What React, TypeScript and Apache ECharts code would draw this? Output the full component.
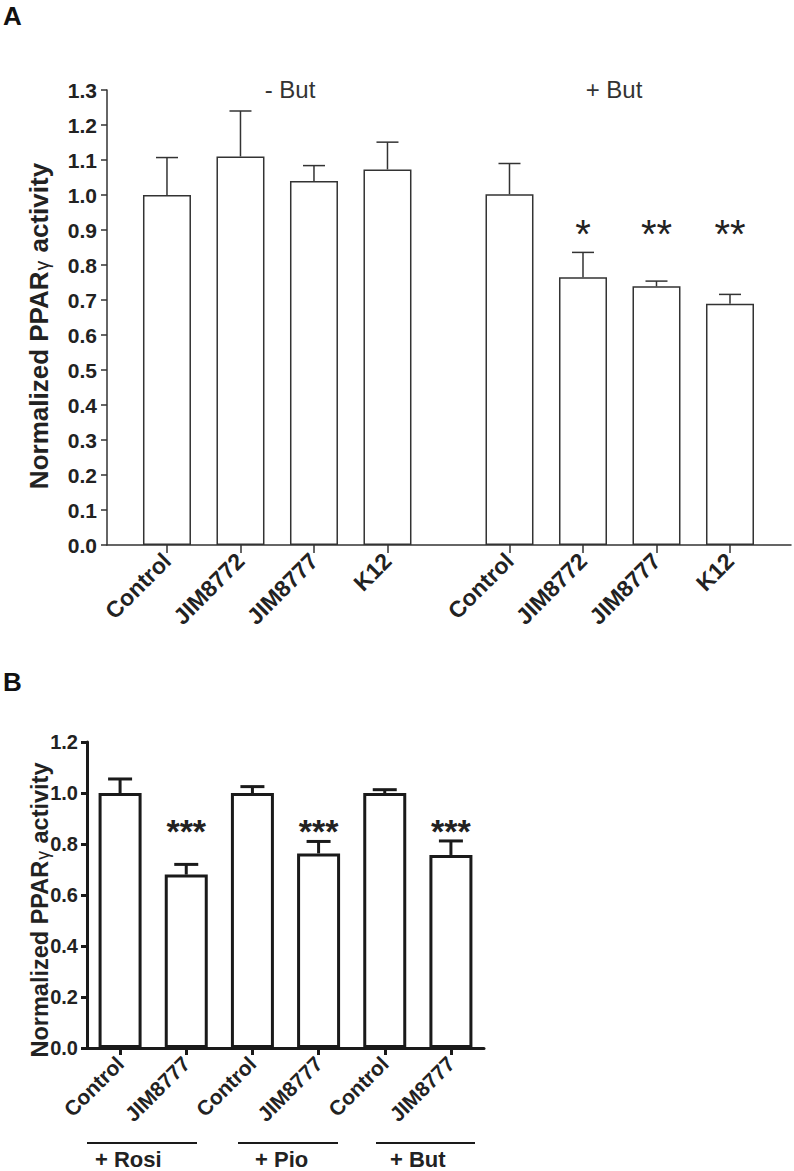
import React, { useEffect, useRef } from "react";
import * as echarts from "echarts";

// ---------- Panel A data ----------
const categoriesA = ["Control", "JIM8772", "JIM8777", "K12"];
const groupLabelsA = ["- But", "+ But"];
const meansNoBut = [1.0, 1.11, 1.04, 1.073];
const errNoBut = [0.107, 0.13, 0.044, 0.078];
const meansBut = [1.002, 0.765, 0.739, 0.689];
const errBut = [0.088, 0.071, 0.015, 0.027];
const starsBut = ["", "*", "**", "**"];
const starLevelA = 0.89;
const yTicksA = { min: 0, max: 1.3, interval: 0.1 };

// ---------- Panel B data ----------
const categoriesB = ["Control", "JIM8777", "Control", "JIM8777", "Control", "JIM8777"];
const groupLabelsB = ["+ Rosi", "+ Pio", "+ But"];
const meansB = [1.0, 0.68, 1.0, 0.763, 1.0, 0.757];
const errB = [0.055, 0.04, 0.025, 0.047, 0.013, 0.055];
const starsB = ["", "***", "", "***", "", "***"];
const starLevelB = 0.85;
const yTicksB = { min: 0, max: 1.2, interval: 0.2 };

// layout helpers (not data)
const FONT = "'Liberation Sans', Arial, Helvetica, sans-serif";
const groupOffsetA = 4.66;
const positionsA: number[] = [];
const labelsA: string[] = [];
[0, 1].forEach((g) =>
  categoriesA.forEach((c, i) => {
    positionsA.push(g * groupOffsetA + i);
    labelsA.push(c);
  })
);
const meansA = [...meansNoBut, ...meansBut];
const errsA = [...errNoBut, ...errBut];
const starsA = [...categoriesA.map(() => ""), ...starsBut];

const colA = "#333333";
const colB = "#1a1a1a";

function errRender(color: string, lw: number, cap: number) {
  return (params: any, api: any) => {
    const x = api.value(0);
    const m = api.value(1);
    const e = api.value(2);
    const p0 = api.coord([x, m]);
    const p1 = api.coord([x, m + e]);
    const style = { stroke: color, lineWidth: lw, fill: "none" };
    return {
      type: "group",
      children: [
        { type: "line", shape: { x1: p0[0], y1: p0[1], x2: p1[0], y2: p1[1] }, style },
        { type: "line", shape: { x1: p1[0] - cap / 2, y1: p1[1], x2: p1[0] + cap / 2, y2: p1[1] }, style },
      ],
    };
  };
}

const starsAll: Record<string, string[]> = { starsA: starsA, starsB: starsB };
function starRender(color: string, size: number, weight: string) {
  return (params: any, api: any) => {
    const p = api.coord([api.value(0), api.value(1)]);
    const txt = starsAll[params.seriesName][params.dataIndex];
    return {
      type: "text",
      x: p[0],
      y: p[1],
      style: {
        text: txt,
        fontSize: size,
        fontFamily: FONT,
        fontWeight: weight,
        fill: color,
        align: "center",
        verticalAlign: "middle",
      },
    };
  };
}

function yTitle(x: number, y: number, size: number, color: string) {
  return {
    type: "text",
    x,
    y,
    rotation: Math.PI / 2,
    style: {
      text: "{a|Normalized PPAR}{g|γ}{a| activity}",
      align: "center",
      verticalAlign: "middle",
      rich: {
        a: { fontSize: size, fontWeight: "bold", fontFamily: FONT, fill: color, color },
        g: { fontSize: size * 0.75, fontWeight: "normal", fontFamily: FONT, fill: color, color, padding: [size * 0.25, 1, 0, 1] },
      },
    },
  };
}

export default function App() {
  const ref = useRef<HTMLDivElement>(null);
  useEffect(() => {
    if (!ref.current) return;
    const chart = echarts.init(ref.current, undefined, { renderer: "svg" });

    const option: any = {
      animation: false,
      backgroundColor: "#ffffff",
      grid: [
        { left: 107, top: 90, width: 684, height: 455 },
        { left: 87, top: 742, width: 397, height: 306 },
      ],
      xAxis: [
        {
          gridIndex: 0,
          type: "value",
          min: -0.816,
          max: 8.49,
          splitLine: { show: false },
          axisLine: { show: true, onZero: false, lineStyle: { color: colA, width: 1.5 } },
          axisTick: { show: true, customValues: positionsA, length: 8, lineStyle: { color: colA, width: 1.5 } },
          axisLabel: {
            customValues: positionsA,
            rotate: 45,
            margin: 12,
            fontSize: 23,
            fontWeight: "bold",
            fontFamily: FONT,
            color: "#222",
            formatter: (v: number) => {
              const i = positionsA.findIndex((p) => Math.abs(p - v) < 1e-6);
              return i >= 0 ? labelsA[i] : "";
            },
          },
        },
        {
          gridIndex: 1,
          type: "category",
          data: categoriesB,
          axisLine: { show: true, onZero: false, lineStyle: { color: colB, width: 3 } },
          axisTick: { show: true, alignWithLabel: true, length: 7, lineStyle: { color: colB, width: 3 } },
          axisLabel: {
            interval: 0,
            rotate: 45,
            margin: 12,
            fontSize: 21,
            fontWeight: "bold",
            fontFamily: FONT,
            color: "#222",
          },
        },
      ],
      yAxis: [
        {
          gridIndex: 0,
          type: "value",
          min: yTicksA.min,
          max: yTicksA.max,
          interval: yTicksA.interval,
          splitLine: { show: false },
          axisLine: { show: true, onZero: false, lineStyle: { color: colA, width: 1.5 } },
          axisTick: { show: true, length: 6, lineStyle: { color: colA, width: 1.5 } },
          axisLabel: {
            margin: 10,
            fontSize: 21,
            fontWeight: "bold",
            fontFamily: FONT,
            color: "#222",
            formatter: (v: number) => v.toFixed(1),
          },
        },
        {
          gridIndex: 1,
          type: "value",
          min: yTicksB.min,
          max: yTicksB.max,
          interval: yTicksB.interval,
          splitLine: { show: false },
          axisLine: { show: true, onZero: false, lineStyle: { color: colB, width: 3 } },
          axisTick: { show: true, length: 6, lineStyle: { color: colB, width: 3 } },
          axisLabel: {
            margin: 9,
            fontSize: 20,
            fontWeight: "bold",
            fontFamily: FONT,
            color: "#222",
            formatter: (v: number) => v.toFixed(1),
          },
        },
      ],
      series: [
        {
          type: "bar",
          xAxisIndex: 0,
          yAxisIndex: 0,
          barWidth: 48,
          data: positionsA.map((x, i) => [x, meansA[i]]),
          itemStyle: { color: "#ffffff", borderColor: colA, borderWidth: 1.5 },
          z: 2,
        },
        {
          type: "custom",
          xAxisIndex: 0,
          yAxisIndex: 0,
          data: positionsA.map((x, i) => [x, meansA[i], errsA[i]]),
          encode: { x: 0, y: 1 },
          renderItem: errRender(colA, 1.5, 22),
          z: 3,
        },
        {
          type: "custom",
          name: "starsA",
          xAxisIndex: 0,
          yAxisIndex: 0,
          data: positionsA.map((x) => [x, starLevelA]),
          encode: { x: 0, y: 1 },
          renderItem: starRender("#222", 40, "normal"),
          z: 4,
        },
        {
          type: "bar",
          xAxisIndex: 1,
          yAxisIndex: 1,
          barWidth: 43,
          data: meansB,
          itemStyle: { color: "#ffffff", borderColor: colB, borderWidth: 3 },
          z: 2,
        },
        {
          type: "custom",
          xAxisIndex: 1,
          yAxisIndex: 1,
          data: meansB.map((m, i) => [i, m, errB[i]]),
          encode: { x: 0, y: 1 },
          renderItem: errRender(colB, 3, 24),
          z: 3,
        },
        {
          type: "custom",
          name: "starsB",
          xAxisIndex: 1,
          yAxisIndex: 1,
          data: meansB.map((_, i) => [i, starLevelB]),
          encode: { x: 0, y: 1 },
          renderItem: starRender("#222", 34, "bold"),
          z: 4,
        },
      ],
      graphic: [
        { type: "text", x: 3, y: 16, style: { text: "A", fontSize: 26, fontWeight: "bold", fontFamily: FONT, fill: "#111", verticalAlign: "middle" } },
        { type: "text", x: 3, y: 682, style: { text: "B", fontSize: 26, fontWeight: "bold", fontFamily: FONT, fill: "#111", verticalAlign: "middle" } },
        { type: "text", x: 290, y: 89, style: { text: groupLabelsA[0], fontSize: 24, fontFamily: FONT, fill: "#333", align: "center", verticalAlign: "middle" } },
        { type: "text", x: 614, y: 89, style: { text: groupLabelsA[1], fontSize: 24, fontFamily: FONT, fill: "#333", align: "center", verticalAlign: "middle" } },
        yTitle(39, 326, 26, "#222"),
        yTitle(40, 910, 23.5, "#222"),
        { type: "line", shape: { x1: 87, y1: 1143, x2: 197, y2: 1143 }, style: { stroke: colB, lineWidth: 2 } },
        { type: "line", shape: { x1: 238, y1: 1143, x2: 338, y2: 1143 }, style: { stroke: colB, lineWidth: 2 } },
        { type: "line", shape: { x1: 376, y1: 1143, x2: 475, y2: 1143 }, style: { stroke: colB, lineWidth: 2 } },
        { type: "text", x: 95, y: 1159, style: { text: groupLabelsB[0], fontSize: 22, fontWeight: "bold", fontFamily: FONT, fill: "#222", verticalAlign: "middle" } },
        { type: "text", x: 255, y: 1159, style: { text: groupLabelsB[1], fontSize: 22, fontWeight: "bold", fontFamily: FONT, fill: "#222", verticalAlign: "middle" } },
        { type: "text", x: 390, y: 1159, style: { text: groupLabelsB[2], fontSize: 22, fontWeight: "bold", fontFamily: FONT, fill: "#222", verticalAlign: "middle" } },
      ],
    };
    chart.setOption(option);
    return () => chart.dispose();
  }, []);
  return (
    <div
      ref={ref}
      style={{ position: "absolute", left: 0, top: 0, width: 794, height: 1171, background: "#fff" }}
    />
  );
}
